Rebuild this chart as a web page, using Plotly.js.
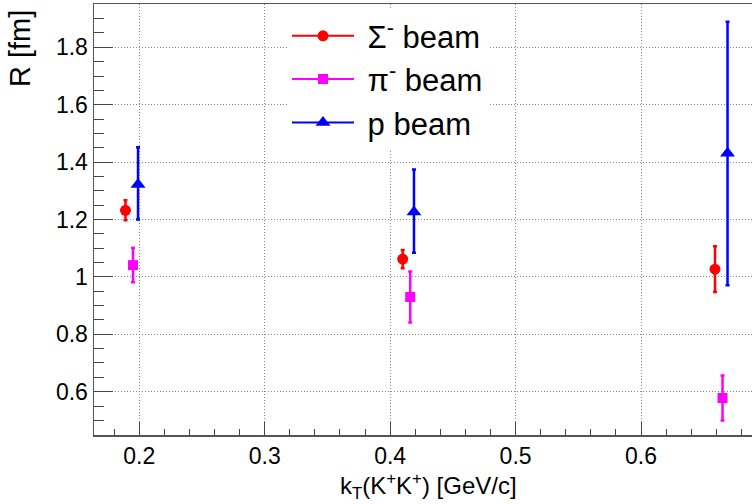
<!DOCTYPE html>
<html>
<head>
<meta charset="utf-8">
<script src="https://cdn.plot.ly/plotly-3.0.1.min.js"></script>
<style>html,body{margin:0;padding:0;background:#fff;}#chart{width:752px;height:504px;}</style>
</head>
<body>
<div id="chart"></div>
<script>
// Data
const seriesNames = ["\u00a0Σ<sup>-</sup> beam", "\u00a0π<sup>-</sup> beam", "\u00a0p beam"];
const ktSigma = [0.189, 0.410, 0.659];
const rSigma = [1.232, 1.062, 1.027];
const errSigma = [0.035, 0.032, 0.080];

const ktPi = [0.195, 0.416, 0.665];
const rPi = [1.041, 0.930, 0.578];
const errPi = [0.060, 0.089, 0.078];

const ktP = [0.199, 0.419, 0.669];
const rP = [1.322, 1.226, 1.431];
const errPPlus = [0.130, 0.148, 0.458];
const errPMinus = [0.122, 0.142, 0.460];

const xTitle = "k<sub>T</sub>(K<sup>+</sup>K<sup>+</sup>) [GeV/c]";
const yTitle = "R [fm]";

const FONT = "Liberation Sans, Arial, Helvetica, sans-serif";
const colors = ["#ff0000", "#ff00ff", "#0000ff"];
const symbols = ["circle", "square", "triangle-up"];
const sizes = [11, 10, 13];

function dataTrace(x, y, plus, minus, i) {
  return {
    x: x, y: y, type: "scatter", mode: "markers", showlegend: false,
    marker: {color: colors[i], symbol: symbols[i], size: sizes[i]},
    error_y: {type: "data", symmetric: false, array: plus, arrayminus: minus,
              color: colors[i], thickness: 2.5, width: 2}
  };
}
function legendTrace(i) {
  return {
    x: [null], y: [null], type: "scatter", mode: "lines+markers",
    name: seriesNames[i], legendgroup: "g" + i,
    line: {color: colors[i], width: 2},
    marker: {color: colors[i], symbol: symbols[i], size: sizes[i]}
  };
}

const traces = [
  dataTrace(ktSigma, rSigma, errSigma, errSigma, 0),
  dataTrace(ktPi, rPi, errPi, errPi, 1),
  dataTrace(ktP, rP, errPPlus, errPMinus, 2),
  legendTrace(0), legendTrace(1), legendTrace(2)
];

const layout = {
  width: 752, height: 504,
  margin: {l: 94, r: 0, t: 4, b: 69, pad: 0},
  paper_bgcolor: "#fff", plot_bgcolor: "#fff",
  font: {family: FONT, color: "#000"},
  showlegend: true,
  legend: {
    x: 0.2933, y: 0.988, xanchor: "left", yanchor: "top",
    bgcolor: "#fff", borderwidth: 0,
    font: {family: FONT, size: 31, color: "#000"},
    itemwidth: 62, tracegroupgap: 4, traceorder: "normal"
  },
  xaxis: {
    range: [0.1639, 0.6885], dtick: 0.1, tick0: 0,
    ticks: "inside", ticklen: 13, tickwidth: 1, tickcolor: "#444",
    showline: true, linecolor: "#555", linewidth: 1.5, mirror: true,
    showgrid: true, gridcolor: "#888", griddash: "1px,2px", gridwidth: 1,
    zeroline: false,
    tickfont: {family: FONT, size: 23, color: "#000"},
    minor: {dtick: 0.02, ticks: "inside", ticklen: 6, tickcolor: "#444", showgrid: false}
  },
  yaxis: {
    range: [0.4491, 1.9509], dtick: 0.2, tick0: 0,
    ticks: "inside", ticklen: 19, tickwidth: 1, tickcolor: "#444",
    showline: true, linecolor: "#555", linewidth: 1.5, mirror: false,
    showgrid: true, gridcolor: "#888", griddash: "1px,2px", gridwidth: 1,
    zeroline: false,
    tickfont: {family: FONT, size: 23, color: "#000"},
    minor: {dtick: 0.05, ticks: "inside", ticklen: 10, tickcolor: "#444", showgrid: false}
  },
  annotations: [
    {text: xTitle, xref: "paper", yref: "paper", x: 0.5076, y: -0.118,
     xanchor: "center", yanchor: "middle", showarrow: false,
     font: {family: FONT, size: 24, color: "#000"}},
    {text: yTitle, xref: "paper", yref: "paper", x: -0.112, y: 0.99,
     xanchor: "center", yanchor: "top", textangle: -90, showarrow: false,
     font: {family: FONT, size: 29, color: "#000"}}
  ]
};

Plotly.newPlot("chart", traces, layout, {displayModeBar: false, staticPlot: true});
</script>
</body>
</html>
